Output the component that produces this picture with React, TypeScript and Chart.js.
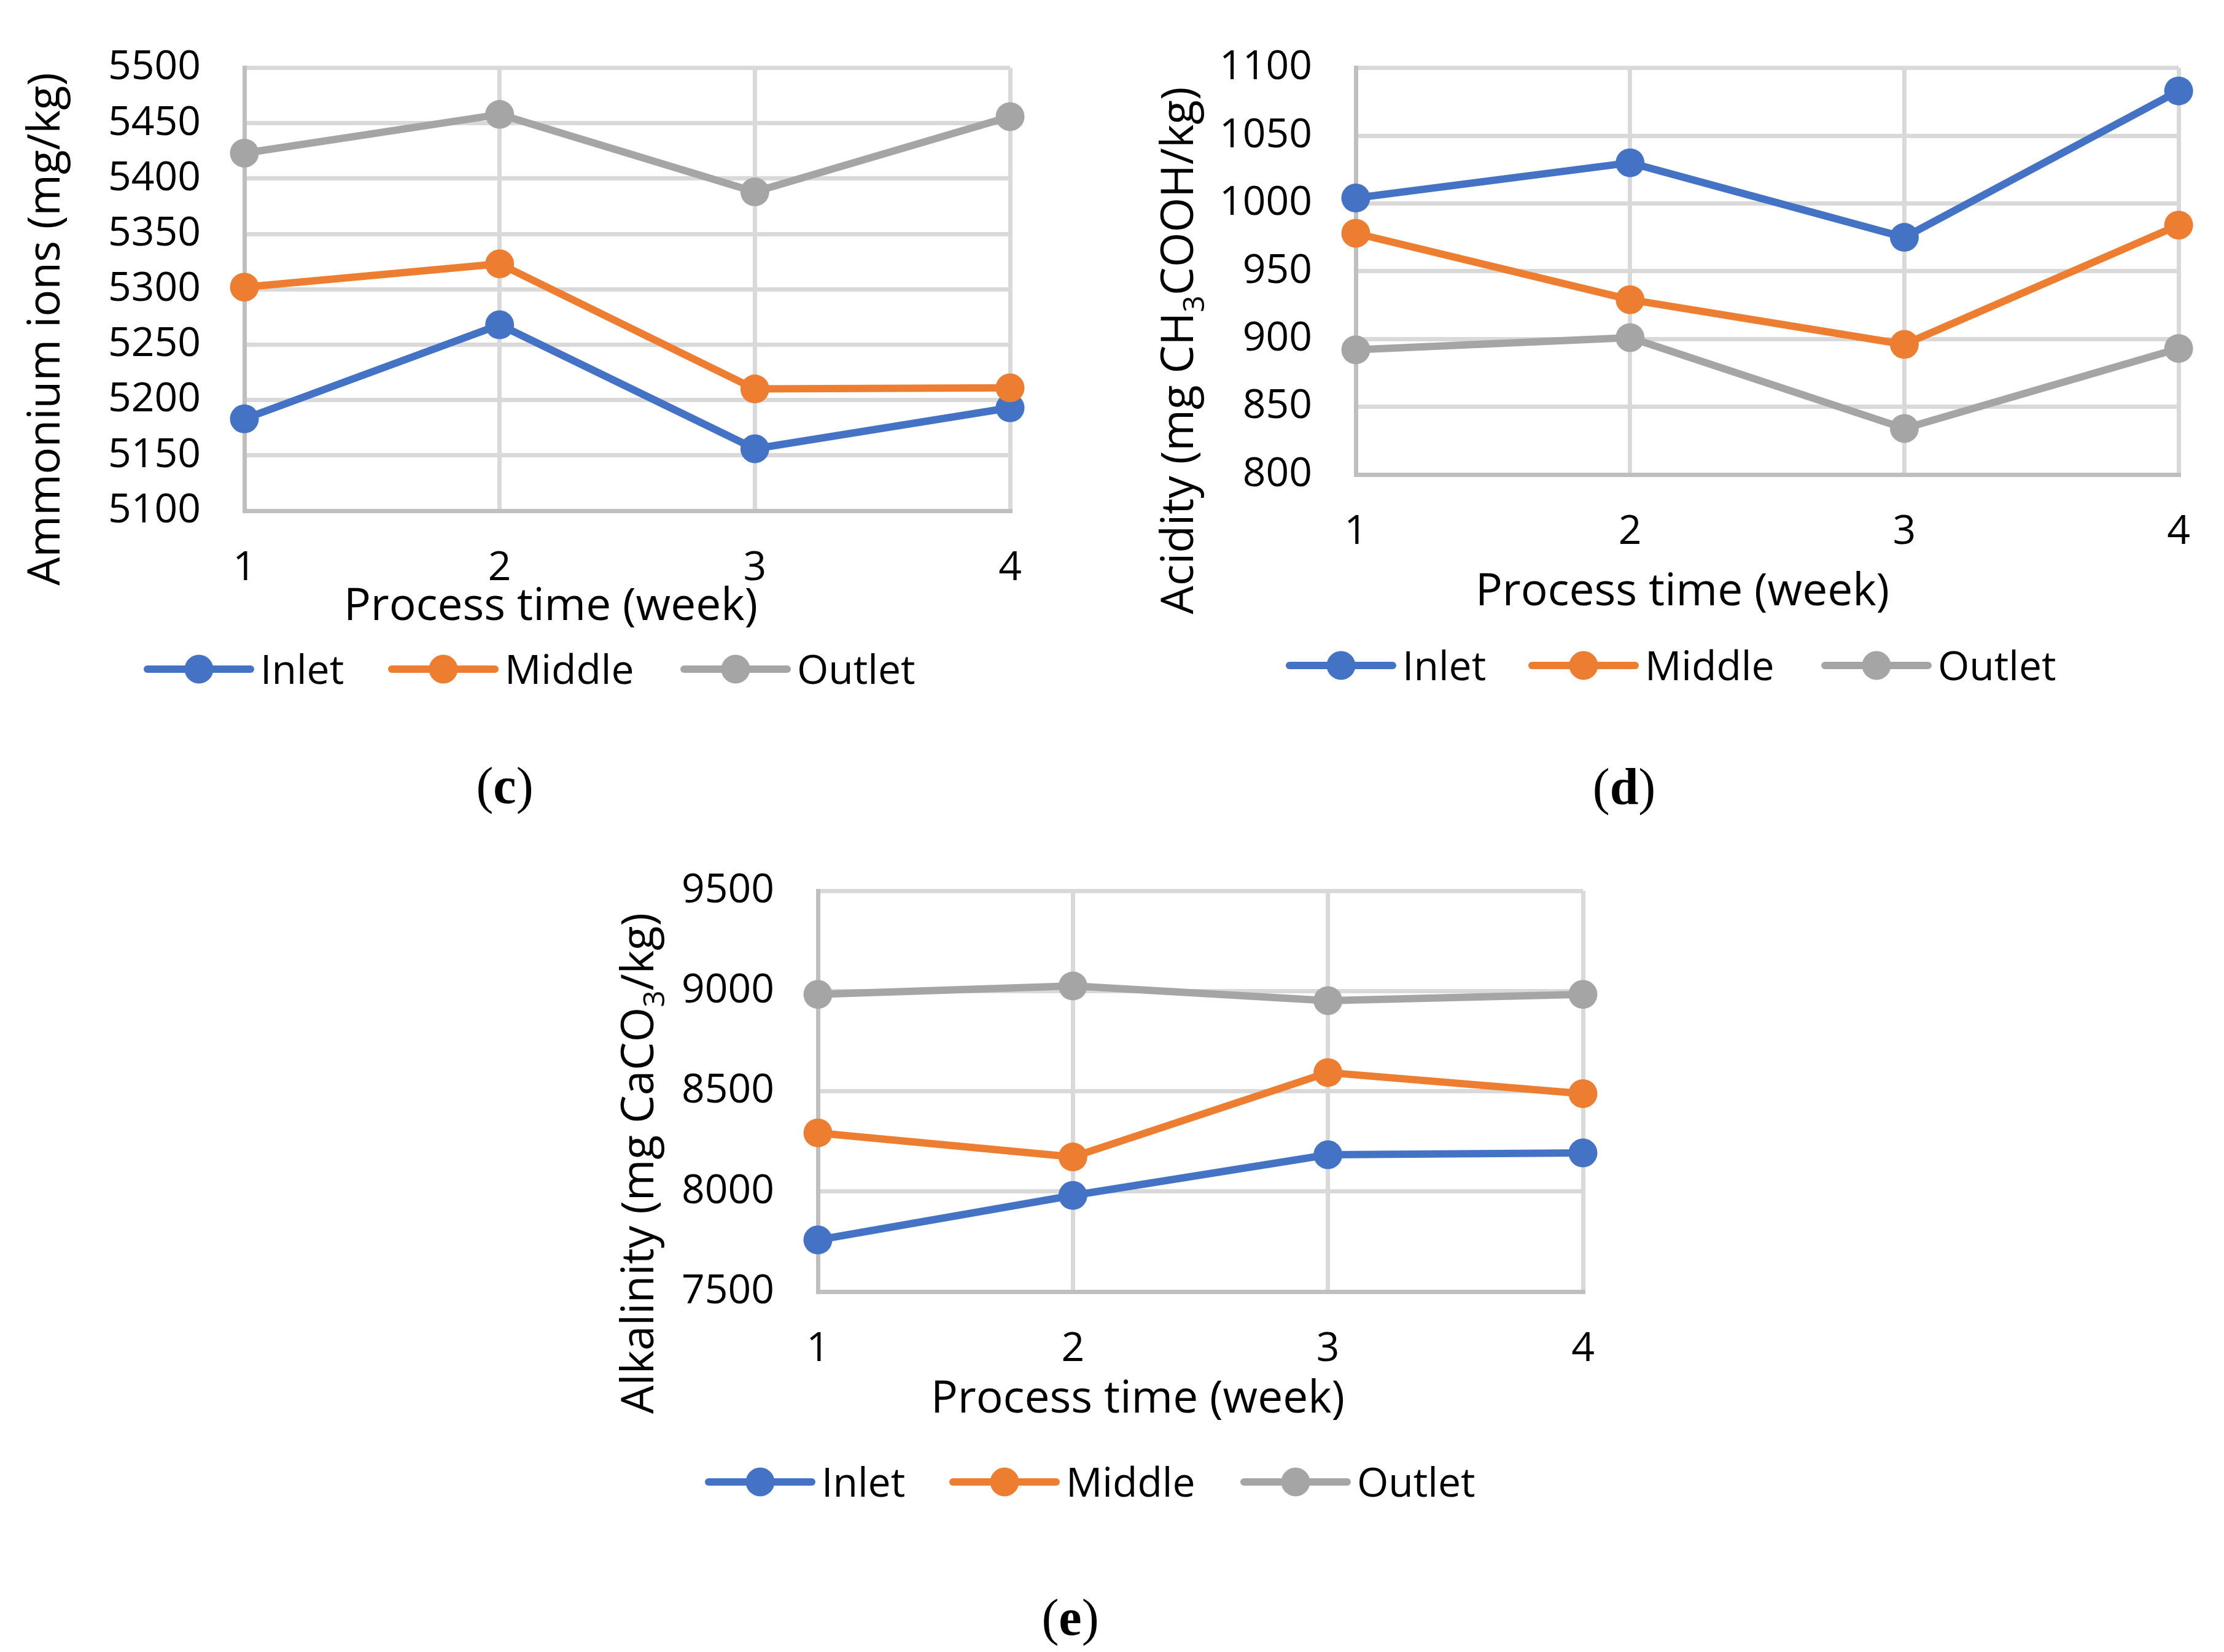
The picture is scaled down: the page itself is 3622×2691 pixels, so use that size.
import React, { useEffect, useRef } from 'react';
import { Chart, registerables } from 'chart.js';

Chart.register(...registerables);

const PAGE_W = 3622;
const PAGE_H = 2691;
const FONT = '"Open Sans", "DejaVu Sans", sans-serif';
const SERIF = '"Liberation Serif", "DejaVu Serif", serif';

// ---------- data ----------
const weeks = ['1', '2', '3', '4'];
const seriesNames = ['Inlet', 'Middle', 'Outlet'];
const seriesColors = ['#4472C4', '#ED7D31', '#A5A5A5'];

const ammoniumInlet = [5183, 5268, 5156, 5193];
const ammoniumMiddle = [5302, 5323, 5210, 5211];
const ammoniumOutlet = [5423, 5458, 5388, 5456];
const ammoniumAxis = [5100, 5500, 50]; // min, max, step

const acidityInlet = [1004, 1030, 975, 1083];
const acidityMiddle = [978, 929, 896, 984];
const acidityOutlet = [892, 901, 834, 893];
const acidityAxis = [800, 1100, 50];

const alkalinityInlet = [7758, 7980, 8183, 8192];
const alkalinityMiddle = [8292, 8172, 8593, 8488];
const alkalinityOutlet = [8983, 9025, 8952, 8983];
const alkalinityAxis = [7500, 9500, 500];

type Seg = { t: string; sub?: boolean };
const xTitleText = 'Process time (week)';
const ammoniumTitle: Seg[] = [{ t: 'Ammonium ions (mg/kg)' }];
const acidityTitle: Seg[] = [{ t: 'Acidity (mg CH' }, { t: '3', sub: true }, { t: 'COOH/kg)' }];
const alkalinityTitle: Seg[] = [{ t: 'Alkalinity (mg CaCO' }, { t: '3', sub: true }, { t: '/kg)' }];

// ---------- layout ----------
interface Layout {
  plot: { l: number; t: number; r: number; b: number };
  yTitle: { bx: number; cy: number };
  xTitle: { cx: number; base: number };
  legend: { y: number; starts: number[] };
  label: { cx: number; base: number };
}

const layoutC: Layout = {
  plot: { l: 398, t: 100, r: 1645, b: 832 },
  yTitle: { bx: 97, cy: 536 },
  xTitle: { cx: 897, base: 1010 },
  legend: { y: 1090, starts: [240, 638, 1114] },
  label: { cx: 822, base: 1308 },
};
const layoutD: Layout = {
  plot: { l: 2208, t: 110, r: 3554, b: 773 },
  yTitle: { bx: 1943, cy: 571 },
  xTitle: { cx: 2740, base: 986 },
  legend: { y: 1084, starts: [2100, 2495, 2972] },
  label: { cx: 2645, base: 1310 },
};
const layoutE: Layout = {
  plot: { l: 1332, t: 1451, r: 2578, b: 2104 },
  yTitle: { bx: 1064, cy: 1895 },
  xTitle: { cx: 1853, base: 2301 },
  legend: { y: 2414, starts: [1154, 1552, 2026] },
  label: { cx: 1743, base: 2663 },
};

interface PanelCfg {
  series: number[][];
  axis: number[];
  yTitle: Seg[];
  letter: string;
  layout: Layout;
}

const panels: PanelCfg[] = [
  { series: [ammoniumInlet, ammoniumMiddle, ammoniumOutlet], axis: ammoniumAxis, yTitle: ammoniumTitle, letter: 'c', layout: layoutC },
  { series: [acidityInlet, acidityMiddle, acidityOutlet], axis: acidityAxis, yTitle: acidityTitle, letter: 'd', layout: layoutD },
  { series: [alkalinityInlet, alkalinityMiddle, alkalinityOutlet], axis: alkalinityAxis, yTitle: alkalinityTitle, letter: 'e', layout: layoutE },
];

const TICK_SIZE = 66;
const TITLE_SIZE = 73;
const SUB_SIZE = 48;
const SUB_SHIFT = 18;
const LEGEND_LINE = 168;
const LEGEND_GAP = 16;
const POINT_R = 23.5;
const LINE_W = 12;

function ChartPanel({ cfg }: { cfg: PanelCfg }) {
  const ref = useRef<HTMLCanvasElement>(null);
  useEffect(() => {
    const canvas = ref.current;
    if (!canvas) return;
    const L = cfg.layout;
    const Y_W = 320;
    const X_H = 200;

    const decor = {
      id: 'decor' + cfg.letter,
      afterDraw(chart: any) {
        const ctx: CanvasRenderingContext2D = chart.ctx;
        ctx.save();
        ctx.fillStyle = '#000';
        ctx.textBaseline = 'alphabetic';

        // y title (rotated, with optional subscript)
        let total = 0;
        const widths = cfg.yTitle.map((s) => {
          ctx.font = `${s.sub ? SUB_SIZE : TITLE_SIZE}px ${FONT}`;
          const w = ctx.measureText(s.t).width;
          total += w;
          return w;
        });
        ctx.save();
        ctx.translate(L.yTitle.bx, L.yTitle.cy);
        ctx.rotate(-Math.PI / 2);
        ctx.textAlign = 'left';
        let x = -total / 2;
        cfg.yTitle.forEach((s, i) => {
          ctx.font = `${s.sub ? SUB_SIZE : TITLE_SIZE}px ${FONT}`;
          ctx.fillText(s.t, x, s.sub ? SUB_SHIFT : 0);
          x += widths[i];
        });
        ctx.restore();

        // x title
        ctx.font = `${TITLE_SIZE}px ${FONT}`;
        ctx.textAlign = 'center';
        ctx.fillText(xTitleText, L.xTitle.cx, L.xTitle.base);

        // legend
        chart.data.datasets.forEach((ds: any, i: number) => {
          const x0 = L.legend.starts[i];
          const y = L.legend.y;
          ctx.strokeStyle = ds.borderColor;
          ctx.lineWidth = LINE_W;
          ctx.lineCap = 'round';
          ctx.beginPath();
          ctx.moveTo(x0, y);
          ctx.lineTo(x0 + LEGEND_LINE, y);
          ctx.stroke();
          ctx.fillStyle = ds.borderColor;
          ctx.beginPath();
          ctx.arc(x0 + LEGEND_LINE / 2, y, POINT_R, 0, Math.PI * 2);
          ctx.fill();
          ctx.fillStyle = '#000';
          ctx.font = `${TICK_SIZE}px ${FONT}`;
          ctx.textAlign = 'left';
          ctx.fillText(ds.label, x0 + LEGEND_LINE + LEGEND_GAP, y + TICK_SIZE * 0.357);
        });

        // panel label "(c)"
        const parts = [
          { t: '(', f: `84px ${SERIF}` },
          { t: cfg.letter, f: `bold 84px ${SERIF}` },
          { t: ')', f: `84px ${SERIF}` },
        ];
        let lw = 0;
        const pw = parts.map((p) => {
          ctx.font = p.f;
          const w = ctx.measureText(p.t).width;
          lw += w;
          return w;
        });
        let px = L.label.cx - lw / 2;
        ctx.textAlign = 'left';
        parts.forEach((p, i) => {
          ctx.font = p.f;
          ctx.fillText(p.t, px, L.label.base);
          px += pw[i];
        });
        ctx.restore();
      },
    };

    const tickFont = { family: FONT, size: TICK_SIZE };
    const chart = new Chart(canvas, {
      type: 'line',
      data: {
        labels: weeks,
        datasets: cfg.series.map((vals, i) => ({
          label: seriesNames[i],
          data: vals,
          borderColor: seriesColors[i],
          backgroundColor: seriesColors[i],
          pointBackgroundColor: seriesColors[i],
          pointBorderColor: seriesColors[i],
          pointBorderWidth: 0,
          pointRadius: POINT_R,
          pointHoverRadius: POINT_R,
          borderWidth: LINE_W,
          borderJoinStyle: 'round',
          borderCapStyle: 'round',
          tension: 0,
          fill: false,
          clip: false,
          order: 2 - i,
        })),
      },
      options: {
        animation: false,
        responsive: false,
        events: [],
        layout: {
          padding: {
            left: L.plot.l - Y_W,
            top: L.plot.t,
            right: PAGE_W - L.plot.r,
            bottom: PAGE_H - L.plot.b - X_H,
          },
        },
        plugins: {
          legend: { display: false },
          tooltip: { enabled: false },
          title: { display: false },
        },
        scales: {
          x: {
            type: 'category',
            offset: false,
            grid: { color: '#D9D9D9', lineWidth: 7, drawTicks: false },
            border: { display: true, color: '#BFBFBF', width: 7 },
            ticks: { font: tickFont, color: '#000', padding: 55, maxRotation: 0, autoSkip: false },
            afterFit: (s: any) => {
              s.height = X_H;
            },
          },
          y: {
            type: 'linear',
            min: cfg.axis[0],
            max: cfg.axis[1],
            grid: { color: '#D9D9D9', lineWidth: 7, drawTicks: false },
            border: { display: true, color: '#BFBFBF', width: 7 },
            ticks: {
              stepSize: cfg.axis[2],
              font: tickFont,
              color: '#000',
              padding: 71,
              callback: (v: any) => String(v),
            },
            afterFit: (s: any) => {
              s.width = Y_W;
            },
          },
        },
      } as any,
      plugins: [decor],
    });
    return () => chart.destroy();
  }, [cfg]);

  return (
    <canvas
      ref={ref}
      width={PAGE_W}
      height={PAGE_H}
      style={{ position: 'absolute', left: 0, top: 0, width: PAGE_W, height: PAGE_H, pointerEvents: 'none' }}
    />
  );
}

export default function App() {
  return (
    <div style={{ position: 'absolute', left: 0, top: 0, width: PAGE_W, height: PAGE_H, background: '#fff', overflow: 'hidden' }}>
      {panels.map((p) => (
        <ChartPanel key={p.letter} cfg={p} />
      ))}
    </div>
  );
}
